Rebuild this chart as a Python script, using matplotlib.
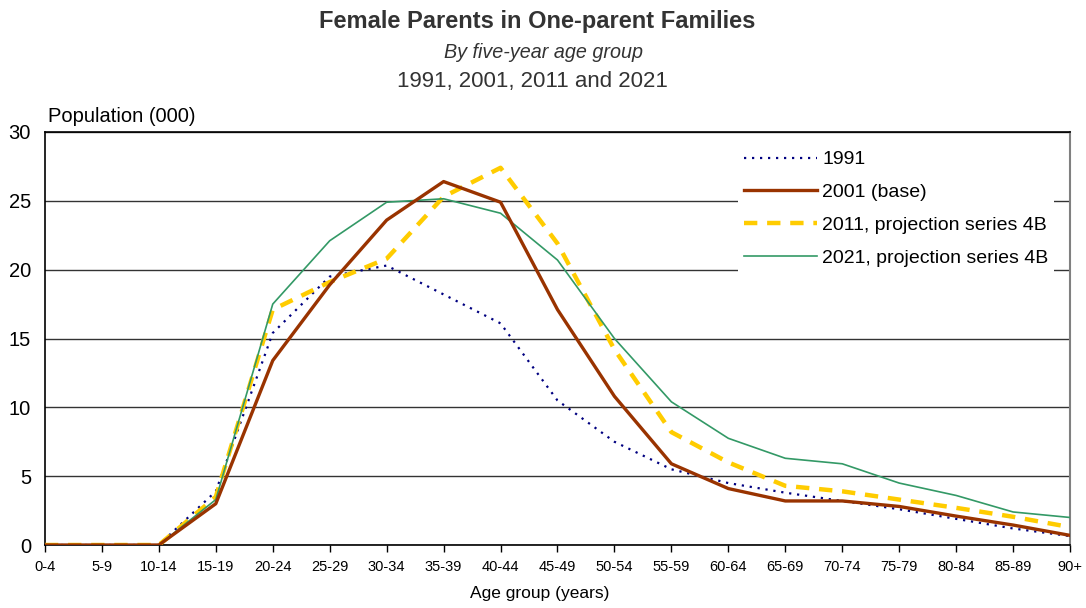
import matplotlib as mpl
import matplotlib.pyplot as plt

mpl.rcParams.update({
    "font.family": ["Liberation Sans", "DejaVu Sans"],
    "figure.facecolor": "white",
})

# ---- data (thousands) ----
age_groups = ["0-4", "5-9", "10-14", "15-19", "20-24", "25-29", "30-34", "35-39",
              "40-44", "45-49", "50-54", "55-59", "60-64", "65-69", "70-74",
              "75-79", "80-84", "85-89", "90+"]
pop_1991 = [0, 0, 0, 3.9, 15.4, 19.5, 20.3, 18.2, 16.1, 10.5, 7.5, 5.5, 4.5,
            3.8, 3.2, 2.6, 1.9, 1.2, 0.65]
pop_2001 = [0, 0, 0, 3.0, 13.4, 18.9, 23.6, 26.4, 24.9, 17.1, 10.8, 5.9, 4.1,
            3.2, 3.2, 2.8, 2.1, 1.45, 0.7]
pop_2011 = [0, 0, 0, 3.5, 17.1, 19.1, 20.8, 25.3, 27.4, 21.9, 14.2, 8.2, 6.0,
            4.3, 3.9, 3.3, 2.7, 2.05, 1.3]
pop_2021 = [0, 0, 0, 3.3, 17.5, 22.1, 24.9, 25.15, 24.1, 20.7, 15.0, 10.4, 7.75,
            6.3, 5.9, 4.5, 3.6, 2.4, 2.0]
y_ticks = [0, 5, 10, 15, 20, 25, 30]

fig = plt.figure(figsize=(10.86, 6.08), dpi=100)
ax = fig.add_axes([0.0414, 0.1036, 0.9439, 0.6793])

x = list(range(len(age_groups)))
ax.plot(x, pop_1991, color="#000080", lw=1.6, linestyle=(0, (1.0, 2.6)),
        label="1991", zorder=3)
ax.plot(x, pop_2001, color="#993300", lw=2.4, label="2001 (base)", zorder=4)
ax.plot(x, pop_2011, color="#FFCC00", lw=3.2, linestyle=(0, (3, 2.2)),
        label="2011, projection series 4B", zorder=3)
ax.plot(x, pop_2021, color="#339966", lw=1.2, label="2021, projection series 4B",
        zorder=3)

ax.set_xlim(0, len(age_groups) - 1)
ax.set_ylim(0, 30)
ax.set_xticks(x)
ax.set_xticklabels(age_groups, fontsize=10.5)
ax.set_yticks(y_ticks)
ax.set_yticklabels([str(v) for v in y_ticks], fontsize=14.5)
ax.tick_params(axis="x", direction="out", length=5, width=1, pad=6)
ax.tick_params(axis="y", length=0, pad=10)
ax.yaxis.grid(True, color="#333333", lw=1.0, zorder=0)
ax.set_axisbelow(True)

for s in ("left", "bottom", "top"):
    ax.spines[s].set_color("black")
    ax.spines[s].set_linewidth(1.2)
ax.spines["right"].set_color("#808080")
ax.spines["right"].set_linewidth(1.5)

ax.set_xlabel("Age group (years)", fontsize=12.5, labelpad=8)
ax.xaxis.set_label_coords(0.4824, -0.1)
fig.text(0.044, 0.792, "Population (000)", fontsize=14.5, ha="left", va="bottom")

leg = ax.legend(loc="upper right", bbox_to_anchor=(0.994, 0.992), fontsize=14,
                frameon=True, framealpha=1, edgecolor="none", fancybox=False,
                handlelength=3.75, handletextpad=0.27, labelspacing=0.78,
                borderpad=0.3)
leg.get_frame().set_linewidth(0)

fig.text(0.495, 0.965, "Female Parents in One-parent Families", fontsize=17,
         fontweight="bold", color="#333333", ha="center", va="center")
fig.text(0.5, 0.913, "By five-year age group", fontsize=14.2, style="italic",
         color="#333333", ha="center", va="center")
fig.text(0.49, 0.866, "1991, 2001, 2011 and 2021", fontsize=16,
         color="#333333", ha="center", va="center")

fig.savefig("out.png", dpi=100)
